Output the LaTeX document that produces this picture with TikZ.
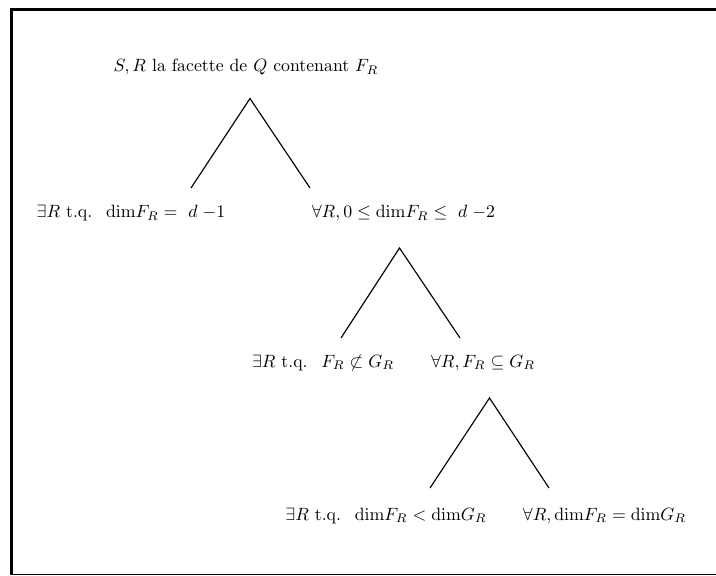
\documentclass[tikz,border=0pt]{standalone}
\begin{document}
\begin{tikzpicture}[x=0.5625pt,y=-0.5625pt,
  lbl/.style={inner sep=0pt, anchor=base},
  branch/.style={line width=0.65pt}]
\useasboundingbox (0,0) rectangle (716,576);
\draw[line width=1.7pt] (716,9.5) -- (11.5,9.5) -- (11.5,574.5);
\draw[line width=0.7pt] (10.5,574.5) -- (716,574.5);
\node[lbl] (top) at (246,72) {$S, R$ la facette de $Q$ contenant $F_R$};
\node[lbl] (l1) at (131,218) {$\exists R$ t.q.~ $\mathrm{dim}F_R = ~d\;{-}1$};
\node[lbl] (r1) at (403.5,218) {$\forall R, 0\leq \mathrm{dim}F_R \leq ~d\;{-}2$};
\node[lbl] (l2) at (323,367) {$\exists R$ t.q.~ $F_R\not\subset G_R$};
\node[lbl] (r2) at (483,367) {$\forall R, F_R\subseteq G_R$};
\node[lbl] (l3) at (386,520) {$\exists R$ t.q.~ $\mathrm{dim}F_R<\mathrm{dim}G_R$};
\node[lbl] (r3) at (604.5,520) {$\forall R, \mathrm{dim}F_R=\mathrm{dim}G_R$};
\coordinate (a1) at (250,98.5);
\coordinate (a1l) at (191,188);
\coordinate (a1r) at (310,188);
\coordinate (a2) at (399.5,248);
\coordinate (a2l) at (341,338);
\coordinate (a2r) at (460,338);
\coordinate (a3) at (489.5,398);
\coordinate (a3l) at (430,488);
\coordinate (a3r) at (549,488);
\draw[branch] (a1l) -- (a1) -- (a1r);
\draw[branch] (a2l) -- (a2) -- (a2r);
\draw[branch] (a3l) -- (a3) -- (a3r);
\end{tikzpicture}
\end{document}
